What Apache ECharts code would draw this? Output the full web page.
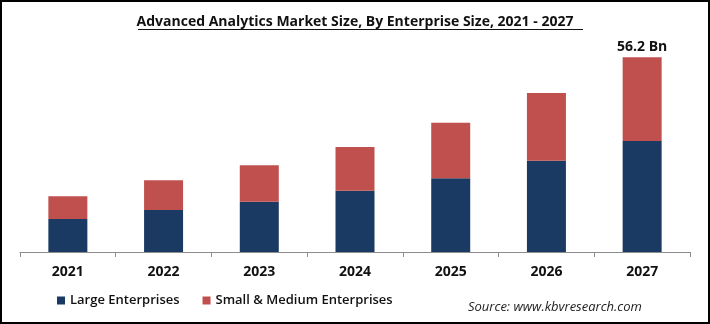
<!DOCTYPE html>
<html>
<head>
<meta charset="utf-8">
<script src="https://cdn.jsdelivr.net/npm/echarts@6/dist/echarts.min.js"></script>
<style>
html,body{margin:0;padding:0;background:#fff;}
#c{width:710px;height:324px;}
</style>
</head>
<body>
<div id="c"></div>
<script>
const categories = ['2021','2022','2023','2024','2025','2026','2027'];
const largeEnterprises = [9.5, 12.1, 14.5, 17.7, 21.3, 26.3, 32.0];
const smallMediumEnterprises = [6.6, 8.6, 10.5, 12.6, 16.0, 19.6, 24.2];
const seriesNames = ['Large Enterprises', 'Small & Medium Enterprises'];
const topLabel = '56.2 Bn';

const chart = echarts.init(document.getElementById('c'), null, {renderer:'canvas'});
const font = '"Open Sans", "Liberation Sans", sans-serif';
chart.setOption({
  animation: false,
  backgroundColor: '#fff',
  title: {
    text: 'Advanced Analytics Market Size, By Enterprise Size, 2021 - 2027',
    left: 'center',
    top: 10,
    textStyle: {fontFamily: font, fontWeight: 'bold', fontSize: 14, color: '#111'}
  },
  legend: {
    left: 52, top: 289,
    icon: 'rect', itemWidth: 8, itemHeight: 8, itemGap: 23,
    textStyle: {fontFamily: font, fontSize: 13, fontWeight: 600, color: '#111'},
    data: seriesNames
  },
  grid: {left: 20, right: 20, top: 44, bottom: 72},
  xAxis: {
    type: 'category',
    data: categories,
    axisLine: {lineStyle: {color: '#8c8c8c', width: 1}},
    axisTick: {show: true, length: 5, lineStyle: {color: '#8c8c8c'}},
    axisLabel: {fontFamily: font, fontWeight: 'bold', fontSize: 14, color: '#111', margin: 13}
  },
  yAxis: {
    type: 'value', min: 0, max: 60, show: false,
    splitLine: {show: false}
  },
  series: [
    {
      name: seriesNames[0], type: 'bar', stack: 't', barWidth: 39,
      itemStyle: {color: '#1b3a63'},
      data: largeEnterprises
    },
    {
      name: seriesNames[1], type: 'bar', stack: 't', barWidth: 39,
      itemStyle: {color: '#c0504d'},
      data: smallMediumEnterprises.map((v, i) => i === categories.length - 1 ? {
        value: v,
        label: {show: true, position: 'top', formatter: topLabel, distance: 3,
          fontFamily: font, fontWeight: 'bold', fontSize: 14, color: '#111'}
      } : v)
    }
  ],
  graphic: [
    {type: 'rect', shape: {x: 1, y: 1, width: 708, height: 322},
     style: {fill: 'none', stroke: '#000', lineWidth: 2}, silent: true},
    {type: 'line', shape: {x1: 138, y1: 29.5, x2: 583, y2: 29.5},
     style: {stroke: '#111', lineWidth: 1}, silent: true},
    {type: 'text', left: 468, top: 301,
     style: {text: 'Source: www.kbvresearch.com', font: 'italic 13px ' + font, fill: '#222'}}
  ]
});
</script>
</body>
</html>
